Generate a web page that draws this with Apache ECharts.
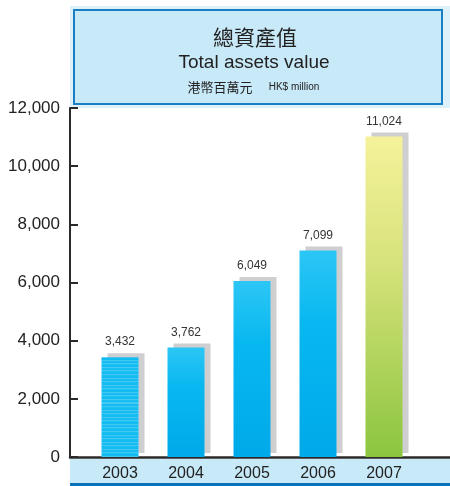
<!DOCTYPE html>
<html>
<head>
<meta charset="utf-8">
<script src="https://cdn.jsdelivr.net/npm/echarts@6/dist/echarts.min.js"></script>
<style>
  html, body { margin: 0; padding: 0; background: #fff; }
  #chart { width: 450px; height: 486px; }
</style>
</head>
<body>
<div id="chart"></div>
<script>
// Total assets value, HK$ million
const years = ['2003', '2004', '2005', '2006', '2007'];
const assets = [3432, 3762, 6049, 7099, 11024];
const yTicks = { min: 0, max: 12000, step: 2000 };

const FONT = '"Liberation Sans", Arial, sans-serif';
const CJK = '"Noto Sans CJK TC", "Noto Sans CJK SC", sans-serif';

function blueFill() {
  return new echarts.graphic.LinearGradient(0, 0, 0, 1, [
    { offset: 0, color: '#2cc6f5' },
    { offset: 0.35, color: '#08b8f0' },
    { offset: 1, color: '#00a9e9' }
  ]);
}
function greenFill() {
  return new echarts.graphic.LinearGradient(0, 0, 0, 1, [
    { offset: 0, color: '#f5f29b' },
    { offset: 0.4, color: '#d6e27a' },
    { offset: 1, color: '#8bc53f' }
  ]);
}
// first bar: fine, faint horizontal stripes over the blue fill
function stripedFill(count) {
  const stops = [];
  for (let k = 0; k < count; k++) {
    const a = k / count, b = (k + 0.7) / count, c = (k + 1) / count;
    stops.push({ offset: a, color: '#1cc0f3' });
    stops.push({ offset: b, color: '#10baf0' });
    stops.push({ offset: b, color: '#44c9f4' });
    stops.push({ offset: c, color: '#44c9f4' });
  }
  return new echarts.graphic.LinearGradient(0, 0, 0, 1, stops);
}

const barData = assets.map((v, i) => {
  let fill;
  if (i === assets.length - 1) fill = greenFill();
  else if (i === 0) fill = stripedFill(28);
  else fill = blueFill();
  return { value: v, itemStyle: { color: fill } };
});

const chart = echarts.init(document.getElementById('chart'), null, { renderer: 'canvas' });

chart.setOption({
  animation: false,
  grid: [
    { left: 70, right: 0, top: 108, bottom: 29 },
    { left: 87, width: 330, top: 108, bottom: 29 }
  ],
  xAxis: [
    {
      gridIndex: 0, type: 'value', min: 0, max: 1,
      axisLine: { show: true, lineStyle: { color: '#2a2a2a', width: 2.5 } },
      axisTick: { show: false }, axisLabel: { show: false }, splitLine: { show: false }
    },
    {
      gridIndex: 1, type: 'category', data: years,
      axisLine: { show: false }, axisTick: { show: false },
      axisLabel: { color: '#222', fontSize: 16, fontFamily: FONT, margin: 9 }
    }
  ],
  yAxis: [
    {
      gridIndex: 0, type: 'value', min: yTicks.min, max: yTicks.max, interval: yTicks.step,
      axisLine: { show: true, lineStyle: { color: '#2a2a2a', width: 2 } },
      axisTick: { show: true, inside: true, length: 8, lineStyle: { color: '#2a2a2a', width: 2 } },
      axisLabel: {
        color: '#222', fontSize: 17, fontFamily: FONT, margin: 10,
        formatter: v => v.toLocaleString('en-US')
      },
      splitLine: { show: false }
    },
    {
      gridIndex: 1, type: 'value', min: yTicks.min, max: yTicks.max, interval: yTicks.step,
      show: false
    }
  ],
  graphic: [
    { type: 'rect', shape: { x: 70, y: 6, width: 380, height: 102 }, style: { fill: '#ddf1fb' }, z: 0 },
    { type: 'rect', shape: { x: 74, y: 10, width: 368, height: 94 },
      style: { fill: '#c8e9f8', stroke: '#1a7fc3', lineWidth: 2 }, z: 1 },
    { type: 'text', x: 255, y: 37, z: 2,
      style: { text: '總資產值', font: '21px ' + CJK, fill: '#222', align: 'center', verticalAlign: 'middle' } },
    { type: 'text', x: 254, y: 63, z: 2,
      style: { text: 'Total assets value', font: '19px ' + FONT, fill: '#222', align: 'center', verticalAlign: 'middle' } },
    { type: 'text', x: 220, y: 87, z: 2,
      style: { text: '港幣百萬元', font: '13px ' + CJK, fill: '#222', align: 'center', verticalAlign: 'middle' } },
    { type: 'text', x: 294, y: 87, z: 2,
      style: { text: 'HK$ million', font: '10px ' + FONT, fill: '#222', align: 'center', verticalAlign: 'middle' } },
    { type: 'rect', shape: { x: 70, y: 459, width: 380, height: 24 }, style: { fill: '#c8e9f8' }, z: 0 },
    { type: 'rect', shape: { x: 70, y: 483, width: 380, height: 3 }, style: { fill: '#0b72ba' }, z: 0 }
  ],
  series: [
    {
      type: 'bar',
      xAxisIndex: 1, yAxisIndex: 1,
      barWidth: 37,
      data: barData,
      itemStyle: {
        shadowColor: '#cfcfd1',
        shadowBlur: 0,
        shadowOffsetX: 6,
        shadowOffsetY: -4
      },
      label: {
        show: true, position: 'top', distance: 9,
        color: '#333', fontSize: 12, fontFamily: FONT,
        formatter: p => p.value.toLocaleString('en-US')
      }
    }
  ]
});
</script>
</body>
</html>
